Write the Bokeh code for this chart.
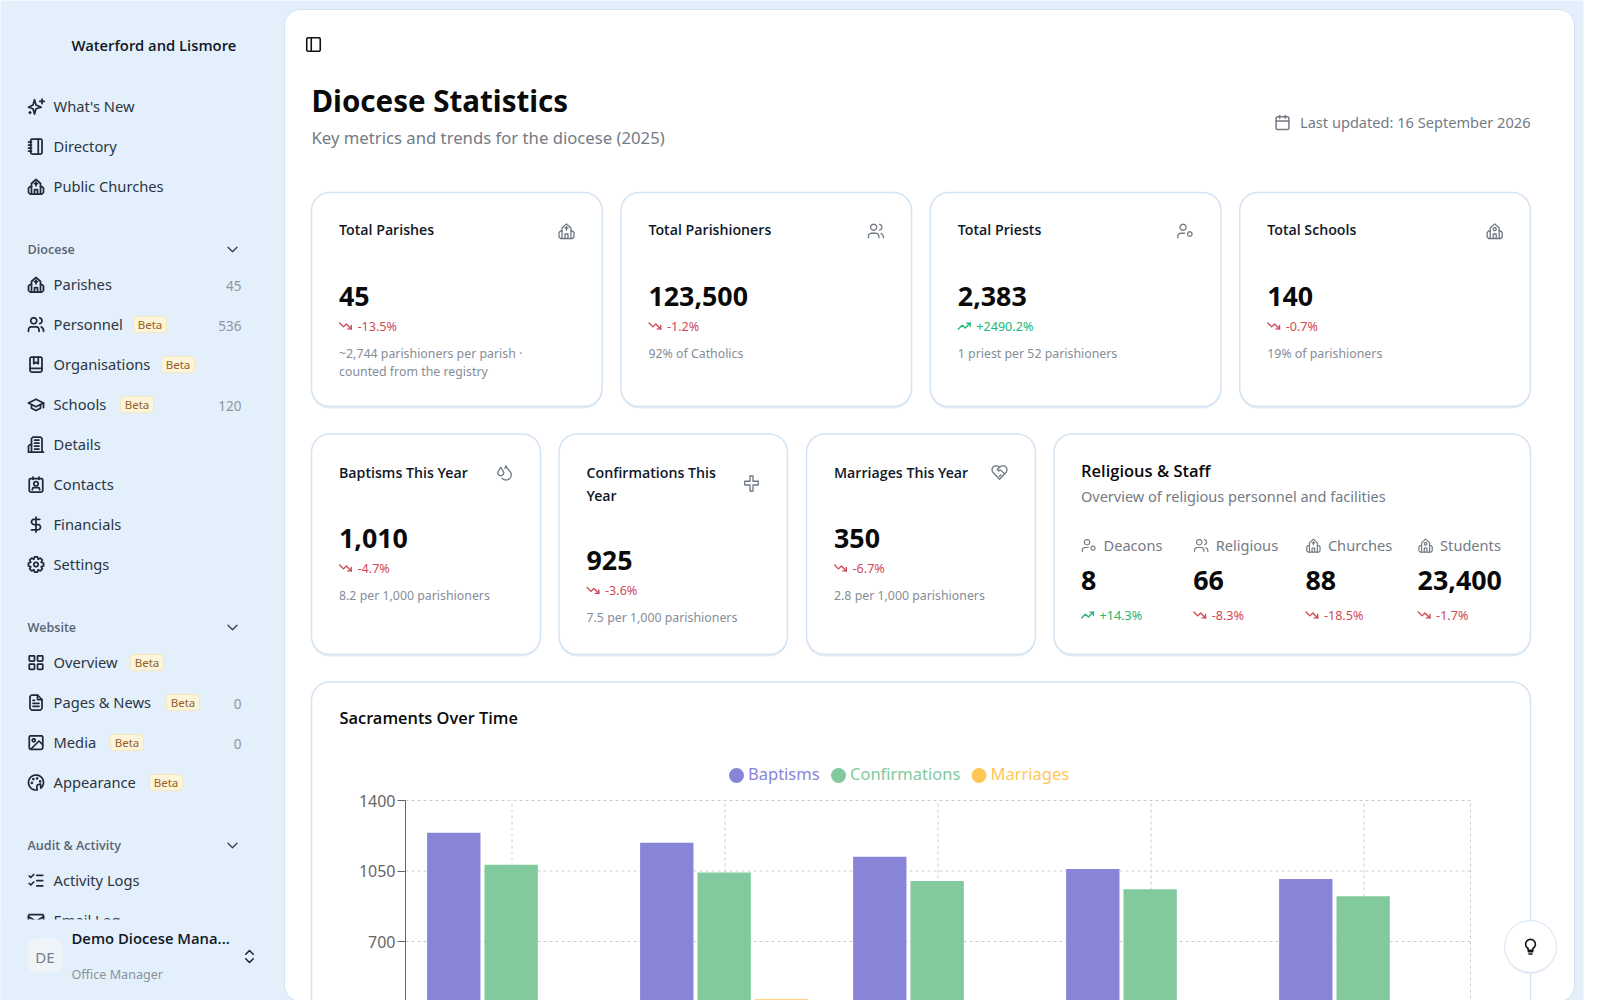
import math
from bokeh.core.properties import value
from bokeh.embed import file_html
from bokeh.models import ColumnDataSource, FixedTicker, LinearAxis, Range1d
from bokeh.plotting import figure
from bokeh.resources import INLINE

# ---- chart data ----
years = ["2021", "2022", "2023", "2024", "2025"]
baptisms = [1240, 1190, 1121, 1060, 1010]
confirmations = [1081, 1042, 1000, 960, 925]
marriages = [400, 413, 390, 375, 350]
series_names = ["Baptisms", "Confirmations", "Marriages"]
series_colors = ["#8884d8", "#82ca9d", "#ffc658"]
y_ticks = [0, 350, 700, 1050, 1400]

# ---- dashboard content ----
top_titles = ["Total Parishes", "Total Parishioners", "Total Priests", "Total Schools"]
top_values = ["45", "123,500", "2,383", "140"]
top_trends = ["-13.5%", "-1.2%", "+2490.2%", "-0.7%"]
top_notes = [["~2,744 parishioners per parish ·", "counted from the registry"], ["92% of Catholics"],
             ["1 priest per 52 parishioners"], ["19% of parishioners"]]
top_icons = ["church", "users", "usercog", "school"]
mid_titles = [["Baptisms This Year"], ["Confirmations This", "Year"], ["Marriages This Year"]]
mid_values = ["1,010", "925", "350"]
mid_trends = ["-4.7%", "-3.6%", "-6.7%"]
mid_notes = ["8.2 per 1,000 parishioners", "7.5 per 1,000 parishioners", "2.8 per 1,000 parishioners"]
mid_icons = ["droplets", "cross", "heart"]
staff_labels = ["Deacons", "Religious", "Churches", "Students"]
staff_values = ["8", "66", "88", "23,400"]
staff_trends = ["+14.3%", "-8.3%", "-18.5%", "-1.7%"]
staff_icons = ["usercog", "users", "church", "school"]
nav_top = [("What's New", "sparkles"), ("Directory", "notebook"), ("Public Churches", "church")]
nav_diocese = [("Parishes", "church", "45", None), ("Personnel", "users", "536", 133), ("Organisations", "book", None, 161),
               ("Schools", "cap", "120", 120), ("Details", "building", None, None), ("Contacts", "contact", None, None),
               ("Financials", "dollar", None, None), ("Settings", "gear", None, None)]
nav_website = [("Overview", "grid", None, 130), ("Pages & News", "file", "0", 166), ("Media", "image", "0", 110),
               ("Appearance", "palette", None, 149)]
nav_audit = [("Activity Logs", "checks", None, None), ("Email Log", "mail", None, None)]

FONT = "Noto Sans"
FONT_M = "Open Sans SemiBold"
BLUE = "#e3f0fb"
BORDER = "#d3e3f2"

# the plot area: 405..1470 px wide for the five bands, 1400 at 800 px, 0 at 1082 px
W, H = 1600, 1000
PX_BAND = 213
PX_LEFT = 405
PX_ZERO = 1082
PX_VALUE = 282 / 1400
p = figure(width=W, height=H, x_range=Range1d(0, W), y_range=Range1d(H, 0),
           extra_x_ranges={"chart": Range1d((0 - PX_LEFT) / PX_BAND, (W - PX_LEFT) / PX_BAND)},
           extra_y_ranges={"chart": Range1d((PX_ZERO - H) / PX_VALUE, (PX_ZERO - 0) / PX_VALUE)},
           output_backend="svg", toolbar_location=None, min_border=0, outline_line_color=None,
           x_axis_location=None, y_axis_location=None, background_fill_color="white", border_fill_color="white")
p.grid.visible = False


def arc(cx, cy, r, a0, a1, n=18):
    return [(cx + r * math.cos(math.radians(a0 + (a1 - a0) * i / n)),
             cy + r * math.sin(math.radians(a0 + (a1 - a0) * i / n))) for i in range(n + 1)]


def circ(cx, cy, r):
    return arc(cx, cy, r, 0, 360, 28)


def rrect(x, y, w, h, r):
    return (arc(x + r, y + r, r, 180, 270, 6) + arc(x + w - r, y + r, r, 270, 360, 6) +
            arc(x + w - r, y + h - r, r, 0, 90, 6) + arc(x + r, y + h - r, r, 90, 180, 6) + [(x, y + r)])


church_base = [[(6, 12), (4, 12), (2, 14), (2, 20), (4, 22), (20, 22), (22, 20), (22, 14), (20, 12), (18, 12)],
               [(6, 22), (6, 8), (12, 2.5), (18, 8), (18, 22)], [(10, 22), (10, 16), (14, 16), (14, 22)]]
gear_pts = []
for k in range(8):
    a = k * 45
    gear_pts += [arc(12, 12, 7.6, a - 22, a - 11, 1)[0], arc(12, 12, 10.3, a - 11, a + 11, 1)[0],
                 arc(12, 12, 10.3, a - 11, a + 11, 1)[1], arc(12, 12, 7.6, a + 11, a + 22, 1)[1]]
gear_pts.append(gear_pts[0])

ICONS = {
    "sparkles": [[(10, 3), (12, 10), (19, 13), (12, 15), (10, 22), (8, 15), (2, 13), (8, 10), (10, 3)], [(20, 2), (20, 8)],
                 [(17, 5), (23, 5)], [(4, 19), (4, 21)], [(3, 20), (5, 20)]],
    "notebook": [rrect(5, 2, 15, 20, 2), [(2, 6), (6, 6)], [(2, 10), (6, 10)], [(2, 14), (6, 14)], [(2, 18), (6, 18)], [(15, 2), (15, 22)]],
    "church": church_base + [[(12, 6), (12, 11)], [(10, 8), (14, 8)]],
    "school": church_base + [circ(12, 9.5, 2)],
    "users": [circ(9, 7, 4), [(2, 21), (2, 19)] + arc(6, 19, 4, 180, 270, 6) + arc(12, 19, 4, 270, 360, 6) + [(16, 21)],
              arc(16, 7, 4, -75, 75, 8), [(22, 21), (22, 19), (21, 17), (19, 15.2)]],
    "usercog": [circ(9, 7, 4), [(2, 21), (2, 19)] + arc(6, 19, 4, 180, 270, 6) + [(11, 15)], circ(18, 16, 3)],
    "book": [rrect(4, 2, 16, 20, 2.5), [(4, 17), (20, 17)], [(9, 2), (9, 11), (12, 9), (15, 11), (15, 2)]],
    "cap": [[(2, 10), (12, 5), (22, 10), (12, 15), (2, 10)], [(6, 12.5), (6, 17), (12, 20), (18, 17), (18, 12.5)], [(22, 10), (22, 16)]],
    "building": [[(6, 22), (6, 4), (8, 2), (18, 2), (20, 4), (20, 22)], [(6, 12), (4, 12), (2, 14), (2, 22)], [(2, 22), (22, 22)],
                 [(10, 6), (16, 6)], [(10, 10), (16, 10)], [(10, 14), (16, 14)], [(10, 18), (16, 18)]],
    "contact": [rrect(3, 4, 18, 18, 2), [(8, 2), (8, 5)], [(16, 2), (16, 5)], circ(12, 11, 3), [(7, 19), (8, 16), (16, 16), (17, 19)]],
    "dollar": [[(12, 2), (12, 22)], [(17, 5), (9.5, 5)] + arc(9.5, 8.5, 3.5, 270, 90, 10) + [(14.5, 12)] + arc(14.5, 15.5, 3.5, -90, 90, 10) + [(6, 19)]],
    "gear": [gear_pts, circ(12, 12, 3)],
    "grid": [rrect(3, 3, 7, 7, 1), rrect(14, 3, 7, 7, 1), rrect(3, 14, 7, 7, 1), rrect(14, 14, 7, 7, 1)],
    "file": [[(14, 2), (6, 2), (4, 4), (4, 20), (6, 22), (18, 22), (20, 20), (20, 8), (14, 2)], [(14, 2), (14, 8), (20, 8)],
             [(8, 9), (10, 9)], [(8, 13), (16, 13)], [(8, 17), (16, 17)]],
    "image": [rrect(3, 3, 18, 18, 2), circ(9, 9, 2), [(21, 15), (16, 10), (5, 21)]],
    "palette": [arc(12, 12, 10, 80, 410, 30) + [(18, 14), (14, 15), (13, 18), (13.5, 21.8)], circ(13.5, 6.5, .6), circ(17.5, 10.5, .6), circ(8.5, 7.5, .6), circ(6.5, 12.5, .6)],
    "checks": [[(3, 6), (5, 8), (9, 4)], [(3, 16), (5, 18), (9, 14)], [(13, 5), (21, 5)], [(13, 12), (21, 12)], [(13, 19), (21, 19)]],
    "mail": [rrect(2, 4, 20, 16, 2), [(2, 7), (12, 13), (22, 7)]],
    "chev": [[(6, 9), (12, 15), (18, 9)]],
    "updown": [[(7, 15), (12, 20), (17, 15)], [(7, 9), (12, 4), (17, 9)]],
    "panel": [rrect(3, 3, 18, 18, 2), [(9, 3), (9, 21)]],
    "calendar": [rrect(3, 4, 18, 18, 2), [(8, 2), (8, 6)], [(16, 2), (16, 6)], [(3, 10), (21, 10)]],
    "down": [[(22, 17), (13.5, 8.5), (8.5, 13.5), (2, 7)], [(16, 17), (22, 17), (22, 11)]],
    "up": [[(22, 7), (13.5, 15.5), (8.5, 10.5), (2, 17)], [(16, 7), (22, 7), (22, 13)]],
    "droplets": [[(7, 5)] + [(9.5, 9), (11, 12)] + arc(7, 12.3, 4, 0, 180, 10) + [(4.5, 9), (7, 5)],
                 [(12.5, 6.6), (14, 3), (16, 7), (20, 11.5)] + arc(14, 15, 7, -15, 140, 14)],
    "cross": [[(10, 2), (14, 2), (14, 9), (21, 9), (21, 14), (14, 14), (14, 22), (10, 22), (10, 14), (3, 14), (3, 9), (10, 9), (10, 2)]],
    "heart": [arc(7.3, 8.3, 5.3, 135, 315, 14) + arc(16.7, 8.3, 5.3, 225, 405, 14) + [(12, 21), (3.5, 12)],
              [(12, 5), (9, 8), (11, 10), (13, 8.5), (18, 13)], [(14, 15), (12, 17)]],
    "bulb": [arc(12, 9, 6.5, 130, 410, 24), [(8.5, 14), (9, 17), (15, 17), (15.5, 14)], [(9, 19), (15, 19)], [(10, 22), (14, 22)]],
}

text_queue = {}
icon_queue = {}


def T(x, y, s, size, color, font=FONT, style="normal", align="left"):
    q = text_queue.setdefault((font, style, size, color, align), ([], [], []))
    q[0].append(x); q[1].append(y - 1); q[2].append(s)


def I(name, cx, cy, size, color, lw=1.5):
    q = icon_queue.setdefault((color, lw), ([], []))
    k = size / 24
    for line in ICONS[name]:
        q[0].append([cx + (a - 12) * k for a, b in line])
        q[1].append([cy + (b - 12) * k for a, b in line])


def flush():
    for (color, lw), (xs, ys) in icon_queue.items():
        p.multi_line(xs, ys, line_color=color, line_width=lw, line_cap="round", line_join="round")
    for (font, style, size, color, align), (x, y, s) in text_queue.items():
        p.text(x, y, text=s, text_font=value(font), text_font_style=style, text_font_size=f"{size}px", text_color=color,
               text_align=align, text_baseline="middle")
    icon_queue.clear(); text_queue.clear()


def box(x0, y0, x1, y1, r, fill, line=None, lw=1.0):
    pts = rrect(x0, y0, x1 - x0, y1 - y0, r) if r else [(x0, y0), (x1, y0), (x1, y1), (x0, y1)]
    p.patch([a for a, b in pts], [b for a, b in pts], fill_color=fill, line_color=line, line_width=lw)


def trend(x, y, s):
    up = s.startswith("+")
    col = "#22b573" if up else "#cf4a58"
    I("up" if up else "down", x + 6.5, y - 1, 14, col, 1.4)
    T(x + 18.5, y, s, 12.6, col)


def beta(x, y):
    box(x, y - 8, x + 33, y + 8, 3.5, "#fdf5d9", "#f6e8b8", 1)
    T(x + 16.5, y + 1, "Beta", 11.5, "#96602c", align="center")


def nav_row(y, item):
    name, icon, count, badge = item
    I(icon, 35.5, y - 1, 18, "#1f2937", 1.75)
    T(53, y - 1, name, 14.7, "#2c3644")
    if badge:
        beta(badge, y - 1)
    if count:
        T(241, y + 1, count, 13.5, "#8c96a3", align="right")


# ---- sidebar and panel ----
box(-4, -4, 1583, 1004, 0, BLUE)
box(284, 9, 1574, 1001, 16, "white", BORDER, 1)
T(71, 45, "Waterford and Lismore", 14.8, "#111827", FONT_M)
for i, (name, icon) in enumerate(nav_top):
    nav_row(107 + 40 * i, (name, icon, None, None))
for head, y0, rows in [("Diocese", 250, nav_diocese), ("Website", 628, nav_website), ("Audit & Activity", 846, nav_audit)]:
    T(27, y0, head, 12.6, "#5a6472", FONT_M)
    I("chev", 232, y0 - 1, 18, "#3b4552", 1.4)
    for i, row in enumerate(rows):
        nav_row(y0 + 35 + 40 * i, row)
flush()
box(-4, 919, 283, 1004, 0, BLUE)
box(27, 938, 62, 972, 9, "#eff4f8")
T(44.5, 957, "DE", 15, "#777f8a", align="center")
T(71, 938, "Demo Diocese Mana...", 14.8, "#111827", FONT_M)
T(71, 975, "Office Manager", 12.6, "#8a929d")
I("updown", 249, 956, 18, "#1f2937", 1.6)

# ---- header ----
I("panel", 313, 44, 18, "#111111", 1.6)
T(311, 101, "Diocese Statistics", 29.5, "#0a0a0a", FONT, "bold")
T(311, 138, "Key metrics and trends for the diocese (2025)", 16.7, "#737b85")
T(1530, 122.5, "Last updated: 16 September 2026", 14.6, "#737b85", align="right")
I("calendar", 1282, 122, 17, "#737b85", 1.5)


def card(x0, y0, x1, y1):
    box(x0, y0 + 2, x1, y1 + 2, 18, "#e6eef6")
    box(x0, y0, x1, y1, 18, "white", BORDER, 1.5)


# ---- first row of cards ----
for i in range(4):
    x0 = 311 + i * 309.4
    card(x0, 192, x0 + 290.7, 406)
    tx = x0 + 27.5
    T(tx, 230, top_titles[i], 14.2, "#111827", FONT_M)
    I(top_icons[i], x0 + 255, 230.5, 18, "#6f7782", 1.3)
    T(tx, 297, top_values[i], 26.8, "#0a0a0a", FONT, "bold")
    trend(tx, 326.5, top_trends[i])
    for k, note in enumerate(top_notes[i]):
        T(tx, 354 + k * 18, note, 12.35, "#868d97")

# ---- second row of cards ----
mid_x = [(311, 540), (558.5, 787), (806, 1035)]
for i, (x0, x1) in enumerate(mid_x):
    card(x0, 433.5, x1, 654)
    tx = x0 + 27.5
    for k, line in enumerate(mid_titles[i]):
        T(tx, 473 + k * 22.5, line, 14.2, "#111827", FONT_M)
    lines = len(mid_titles[i]) - 1
    I(mid_icons[i], x1 - 36, 472 + 11 * lines, 18, "#6f7782", 1.3)
    T(tx, 539 + 21.5 * lines, mid_values[i], 26.8, "#0a0a0a", FONT, "bold")
    trend(tx, 568.5 + 22.5 * lines, mid_trends[i])
    T(tx, 596 + 21.5 * lines, mid_notes[i], 12.35, "#868d97")

card(1053.5, 433.5, 1530, 654)
T(1080.5, 471, "Religious & Staff", 16.5, "#0a0a0a", FONT_M)
T(1080.5, 496, "Overview of religious personnel and facilities", 14.5, "#737b85")
for i in range(4):
    x = 1080.5 + i * 112.2
    I(staff_icons[i], x + 8, 545, 16, "#737b85", 1.2)
    T(x + 22.5, 545, staff_labels[i], 14.6, "#737b85")
    T(x, 581, staff_values[i], 26.8, "#0a0a0a", FONT, "bold")
    trend(x, 615.5, staff_trends[i])

# ---- chart card ----
box(311, 681.5, 1530, 1020, 18, "white", BORDER, 1.5)
T(339, 718, "Sacraments Over Time", 16.4, "#0a0a0a", FONT_M)
legend_x = [736, 838, 978.5]
p.scatter(legend_x, [775] * 3, size=15, marker="circle", color=series_colors, line_color=None)
for x, name, col in zip(legend_x, series_names, series_colors):
    T(x + 11.5, 774, name, 16.5, col)
flush()

kw = dict(x_range_name="chart", y_range_name="chart")
centers = [i + 0.5 for i in range(len(years))]
p.segment([0] * len(y_ticks), y_ticks, [len(years)] * len(y_ticks), y_ticks, line_color="#cccccc", line_dash=value([3, 3]), line_width=1, **kw)
grid_x = centers + [len(years)]
p.segment(grid_x, [0] * len(grid_x), grid_x, [max(y_ticks)] * len(grid_x), line_color="#cccccc", line_dash=value([3, 3]), line_width=1, **kw)

src = ColumnDataSource(dict(center=centers, baptisms=baptisms, confirmations=confirmations, marriages=marriages))
for k, (field, col) in enumerate(zip(["baptisms", "confirmations", "marriages"], series_colors)):
    offs = (k - 1) * 0.2693 - 0.004
    src.data[f"x{k}"] = [c + offs for c in centers]
    p.vbar(x=f"x{k}", top=field, bottom=0, width=0.2505, source=src, fill_color=col, line_color=None, **kw)

axis = LinearAxis(x_range_name="chart", y_range_name="chart", fixed_location=0, ticker=FixedTicker(ticks=y_ticks),
                  bounds=(0, max(y_ticks)), major_tick_out=8, major_tick_in=0, minor_tick_out=0, minor_tick_in=0,
                  axis_line_color="#666666", major_tick_line_color="#666666", major_label_text_color="#666666",
                  major_label_text_font=FONT, major_label_text_font_size="16px", major_label_standoff=2)
p.add_layout(axis, "left")

# ---- floating help button ----
box(1504, 922, 1556, 974, 26, "#eef2f6")
box(1504, 920, 1556, 972, 26, "white", BORDER, 1)
I("bulb", 1530, 946, 18, "#111111", 1.6)
flush()

open("out.html", "w").write(file_html(p, INLINE))
